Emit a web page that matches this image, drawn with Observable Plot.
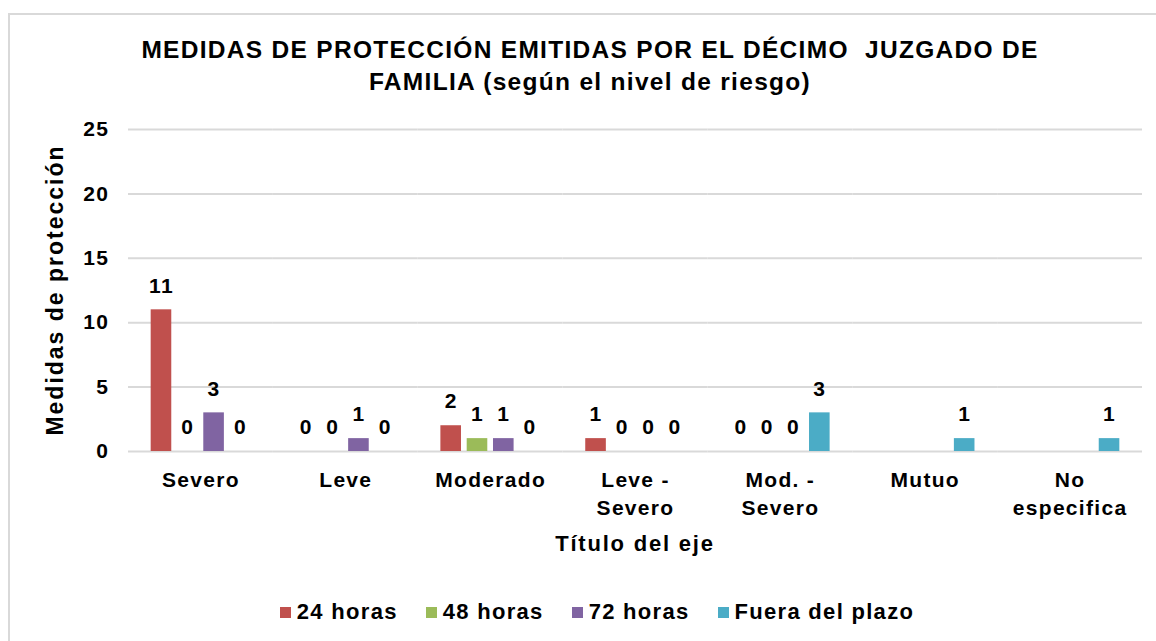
<!DOCTYPE html>
<html>
<head>
<meta charset="utf-8">
<script src="https://cdn.jsdelivr.net/npm/d3@7"></script>
<script src="https://cdn.jsdelivr.net/npm/@observablehq/plot@0.6"></script>
<style>
html, body { margin: 0; padding: 0; background: #fff; overflow: hidden; }
body { width: 1156px; height: 641px; position: relative; font-family: "Liberation Sans", Arial, sans-serif; font-weight: bold; color: #000; }
#frame { position: absolute; left: 8px; top: 13px; width: 1200px; height: 700px; border-left: 2px solid #d9d9d9; border-top: 2px solid #d9d9d9; box-sizing: border-box; }
#title { position: absolute; left: 0; width: 1180px; top: 34px; text-align: center; font-size: 24.5px; line-height: 32px; letter-spacing: 1.3px; white-space: pre; }
#chart { position: absolute; left: 0; top: 100px; }
#chart svg { letter-spacing: 1.3px; }
#xtitle { position: absolute; left: 0; width: 1270px; top: 533px; text-align: center; font-size: 22px; line-height: 22px; letter-spacing: 1.8px; }
#ytitle { position: absolute; left: -145px; top: 278px; width: 400px; height: 24px; text-align: center; font-size: 23px; line-height: 24px; letter-spacing: 2px; transform: rotate(-90deg); transform-origin: 50% 50%; white-space: nowrap; }
#legend { position: absolute; left: 0; width: 1194px; top: 601px; height: 22px; display: flex; justify-content: center; align-items: center; font-size: 22px; line-height: 22px; letter-spacing: 1.3px; }
#legend .item { display: flex; align-items: center; margin: 0 14px; }
#legend .sw { width: 11px; height: 11px; margin-right: 6px; }
</style>
</head>
<body>
<div id="frame"></div>
<div id="title"></div>
<div id="chart"></div>
<div id="xtitle"></div>
<div id="ytitle"></div>
<div id="legend"></div>
<script>
// ---- data ----
const titleLines = ["MEDIDAS DE PROTECCIÓN EMITIDAS POR EL DÉCIMO  JUZGADO DE", "FAMILIA (según el nivel de riesgo)"];
const xTitle = "Título del eje";
const yTitle = "Medidas de protección";
const categories = ["Severo", "Leve", "Moderado", "Leve -\nSevero", "Mod. -\nSevero", "Mutuo", "No\nespecifica"];
const series = ["24 horas", "48 horas", "72 horas", "Fuera del plazo"];
const colors = ["#C0504D", "#9BBB59", "#8064A2", "#4BACC6"];
const v24 = [11, 0, 2, 1, 0, null, null];
const v48 = [0, 0, 1, 0, 0, null, null];
const v72 = [3, 1, 1, 0, 0, null, null];
const vFuera = [0, 0, 0, 0, 3, 1, 1];
const yTicks = [0, 5, 10, 15, 20, 25];

// ---- table ----
const rows = [];
[v24, v48, v72, vFuera].forEach((vals, si) => vals.forEach((v, ci) => {
  if (v != null) rows.push({category: categories[ci], series: series[si], value: v});
}));

// ---- layout ----
const W = 1156, H = 430, mL = 128, mR = 14, mT = 29, mB = 79;
const padIn = 0.313;
const fxStep = (W - mL - mR) / categories.length;
const ext = fxStep * padIn / 2;

document.getElementById("title").textContent = titleLines.join("\n");
document.getElementById("xtitle").textContent = xTitle;
document.getElementById("ytitle").textContent = yTitle;

const chart = Plot.plot({
  width: W, height: H,
  marginLeft: mL, marginRight: mR, marginTop: mT, marginBottom: mB,
  style: {fontFamily: '"Liberation Sans", Arial, sans-serif', fontWeight: "bold", fontSize: "21px", color: "#000", background: "transparent"},
  fx: {domain: categories, paddingInner: padIn, paddingOuter: padIn / 2, round: false, axis: null, label: null},
  x: {domain: series, paddingInner: 0.217, paddingOuter: 0, round: false, axis: null},
  y: {domain: [0, 25], axis: null},
  color: {domain: series, range: colors},
  marks: [
    Plot.ruleY(yTicks, {y: d => d, stroke: "#d9d9d9", strokeWidth: 2, insetLeft: -ext, insetRight: -ext}),
    Plot.barY(rows, {fx: "category", x: "series", y: "value", fill: "series"}),
    Plot.text(rows, {fx: "category", x: "series", y: "value", text: d => String(d.value), dy: -24, lineAnchor: "middle", fontSize: 21, fontWeight: "bold", fill: "#000"}),
    Plot.text(categories, {fx: d => d, text: d => d, frameAnchor: "bottom", lineAnchor: "top", dy: 15, lineHeight: 1.35, fontSize: 21, fontWeight: "bold", fill: "#000"}),
    Plot.text(yTicks, {fx: () => categories[0], y: d => d, text: d => String(d), frameAnchor: "left", textAnchor: "end", dx: -42, fontSize: 21, fontWeight: "bold", fill: "#000"})
  ]
});
document.getElementById("chart").appendChild(chart);

// ---- legend ----
const legend = document.getElementById("legend");
series.forEach((s, i) => {
  const item = document.createElement("div");
  item.className = "item";
  const sw = document.createElement("span");
  sw.className = "sw";
  sw.style.background = colors[i];
  const t = document.createElement("span");
  t.textContent = s;
  item.appendChild(sw);
  item.appendChild(t);
  legend.appendChild(item);
});
</script>
</body>
</html>
